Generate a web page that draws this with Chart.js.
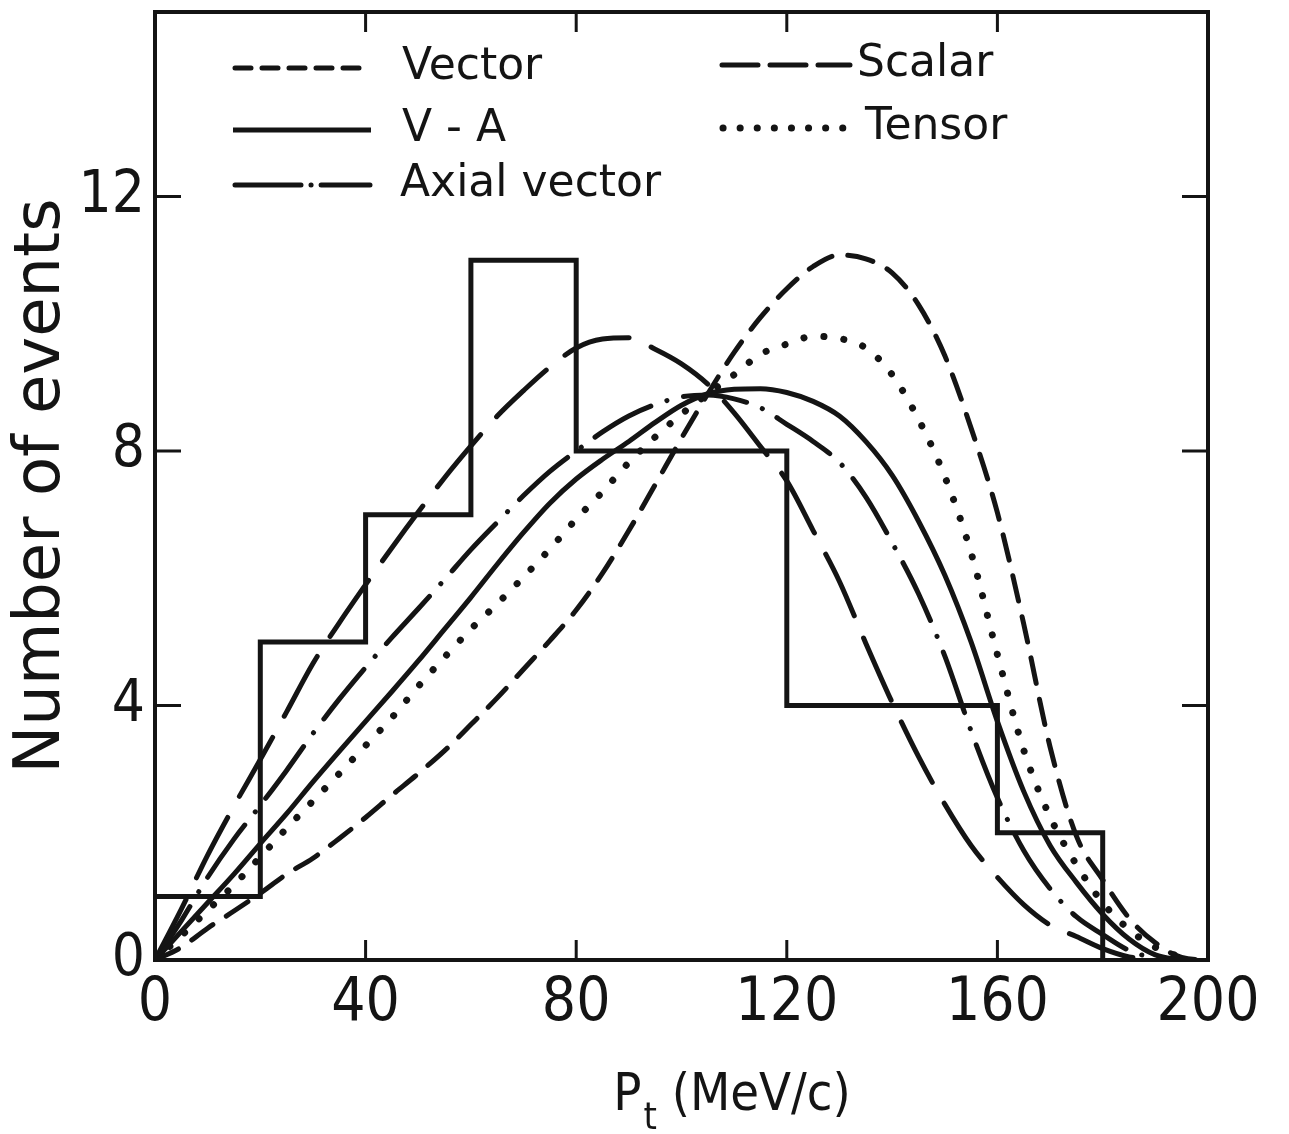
<!DOCTYPE html>
<html>
<head>
<meta charset="utf-8">
<title>Pt distribution</title>
<script src="https://cdn.jsdelivr.net/npm/chart.js@4.4.1/dist/chart.umd.min.js"></script>
<style>
  html, body { margin: 0; padding: 0; background: #fff; }
  #wrap { width: 1289px; height: 1134px; }
</style>
</head>
<body>
<div id="wrap"><canvas id="ptChart" width="1289" height="1134"></canvas></div>
<script>
// --- DATA ---
const ptValues = [0, 5, 10, 15, 20, 25, 30, 35, 40, 45, 50, 55, 60, 65, 70, 75, 80, 85, 90, 95,
    100, 105, 110, 115, 120, 125, 130, 135, 140, 145, 150, 155, 160, 165, 170, 175, 180, 185, 190, 195, 200];

const vectorCurve = [0, 0.2, 0.5, 0.77, 1.05, 1.35, 1.6, 1.91, 2.24, 2.59, 2.93, 3.29, 3.7, 4.12, 4.57, 5.02, 5.5, 6.08, 6.75, 7.47,
    8.2, 8.9, 9.55, 10.1, 10.55, 10.9, 11.08, 11.02, 10.8, 10.3, 9.5, 8.36, 7.03, 5.28, 3.35, 1.95, 1.26, 0.66, 0.27, 0.04, 0];
const vaCurve = [0, 0.45, 0.9, 1.35, 1.83, 2.3, 2.8, 3.28, 3.75, 4.22, 4.7, 5.2, 5.7, 6.22, 6.72, 7.18, 7.56, 7.87, 8.15, 8.45,
    8.72, 8.9, 8.97, 8.98, 8.92, 8.78, 8.55, 8.15, 7.62, 6.9, 6.05, 5.0, 3.75, 2.65, 1.8, 1.22, 0.72, 0.33, 0.08, 0, null];
const axialCurve = [0, 0.62, 1.3, 1.9, 2.43, 2.98, 3.56, 4.1, 4.6, 5.07, 5.52, 5.98, 6.45, 6.88, 7.3, 7.68, 8.0, 8.3, 8.55, 8.73,
    8.85, 8.88, 8.82, 8.68, 8.42, 8.15, 7.82, 7.28, 6.56, 5.76, 4.78, 3.6, 2.55, 1.72, 1.12, 0.68, 0.4, 0.15, 0.02, null, null];
const scalarCurve = [0, 0.8, 1.65, 2.42, 3.15, 3.9, 4.66, 5.3, 5.9, 6.48, 7.04, 7.58, 8.08, 8.55, 8.95, 9.32, 9.62, 9.76, 9.78, 9.6,
    9.37, 9.05, 8.6, 8.07, 7.53, 6.75, 5.95, 4.98, 4.05, 3.2, 2.45, 1.8, 1.3, 0.87, 0.55, 0.37, 0.18, 0.05, 0, null, null];
const tensorCurve = [0, 0.38, 0.78, 1.18, 1.62, 2.07, 2.5, 2.93, 3.37, 3.81, 4.3, 4.76, 5.2, 5.6, 6.02, 6.46, 6.93, 7.36, 7.82, 8.22,
    8.58, 8.9, 9.2, 9.52, 9.68, 9.8, 9.77, 9.62, 9.2, 8.5, 7.6, 6.4, 4.8, 3.3, 2.25, 1.5, 0.9, 0.48, 0.2, 0.04, null];

const binEdges = [0, 20, 40, 60, 80, 100, 120, 140, 160, 180];
const binCounts = [1, 5, 7, 11, 8, 8, 4, 4, 2];

const xTickValues = [0, 40, 80, 120, 160, 200];
const yTickValues = [0, 4, 8, 12];
const xMarkValues = [40, 80, 120, 160];
const yMarkValues = [4, 8, 12];

const INK = '#141414';
const NARROW = "'Liberation Sans Narrow', 'DejaVu Sans Condensed', 'DejaVu Sans', sans-serif";

// --- DATA PROCESSING ---
function toPoints(values) {
    return ptValues
        .map((x, i) => ({ x: x, y: values[i] }))
        .filter(p => p.y !== null && p.y !== undefined);
}

const histPoints = binCounts.map((c, i) => ({ x: binEdges[i], y: c }));
histPoints.push({ x: binEdges[binEdges.length - 1], y: binCounts[binCounts.length - 1] });
histPoints.push({ x: binEdges[binEdges.length - 1], y: 0 });

// --- LEGEND / FRAME ---
const legendItems = [
    { label: 'Vector', dash: [16, 11], cap: 'round', width: 5, x0: 80, x1: 215, tx: 247, ty: 56 },
    { label: 'V - A', dash: [], cap: 'butt', width: 5, x0: 78, x1: 216, tx: 247, ty: 118 },
    { label: 'Axial vector', dash: [66, 10, 0.1, 10, 60], cap: 'round', width: 5, x0: 80, x1: 215, tx: 245, ty: 173 },
    { label: 'Scalar', dash: [36, 12], cap: 'round', width: 5, x0: 567, x1: 695, tx: 702, ty: 53 },
    { label: 'Tensor', dash: [0.1, 17], cap: 'round', width: 7, x0: 568, x1: 700, tx: 710, ty: 116 }
];

const framePlugin = {
    id: 'frame',
    afterDatasetsDraw(chart) {
        const { ctx, chartArea: a, scales: { x, y } } = chart;
        ctx.save();
        ctx.strokeStyle = INK;
        ctx.fillStyle = INK;
        ctx.setLineDash([]);
        ctx.lineWidth = 4;
        ctx.strokeRect(a.left, a.top, a.right - a.left, a.bottom - a.top);

        // inward tick marks
        ctx.lineWidth = 3;
        ctx.beginPath();
        xMarkValues.forEach(v => {
            const px = x.getPixelForValue(v);
            ctx.moveTo(px, a.bottom); ctx.lineTo(px, a.bottom - 20);
            ctx.moveTo(px, a.top); ctx.lineTo(px, a.top + 20);
        });
        yMarkValues.forEach(v => {
            const py = y.getPixelForValue(v);
            ctx.moveTo(a.left, py); ctx.lineTo(a.left + 26, py);
            ctx.moveTo(a.right, py); ctx.lineTo(a.right - 26, py);
        });
        ctx.stroke();

        // legend
        ctx.font = "44px 'DejaVu Sans', sans-serif";
        ctx.textBaseline = 'middle';
        ctx.textAlign = 'left';
        legendItems.forEach(item => {
            const ly = a.top + item.ty;
            ctx.beginPath();
            ctx.lineWidth = item.width;
            ctx.lineCap = item.cap;
            ctx.setLineDash(item.dash);
            ctx.moveTo(a.left + item.x0, ly);
            ctx.lineTo(a.left + item.x1, ly);
            ctx.stroke();
            ctx.setLineDash([]);
            ctx.fillText(item.label, a.left + item.tx, ly);
        });

        // x axis title with subscript
        const cx = 731, base = 1110;
        ctx.textBaseline = 'alphabetic';
        ctx.font = '52px ' + NARROW;
        const wP = ctx.measureText('P').width;
        const rest = ' (MeV/c)';
        const wRest = ctx.measureText(rest).width;
        ctx.font = '38px ' + NARROW;
        const wT = ctx.measureText('t').width;
        const sx = cx - (wP + wT + wRest) / 2;
        ctx.font = '52px ' + NARROW;
        ctx.fillText('P', sx, base);
        ctx.font = '38px ' + NARROW;
        ctx.fillText('t', sx + wP + 2, base + 19);
        ctx.font = '52px ' + NARROW;
        ctx.fillText(rest, sx + wP + wT + 2, base);
        ctx.restore();
    }
};

// --- CHART ---
function curve(label, values, dash, width, cap) {
    return {
        label: label,
        data: toPoints(values),
        borderColor: INK,
        borderWidth: width,
        borderDash: dash,
        borderCapStyle: cap,
        cubicInterpolationMode: 'monotone',
        pointRadius: 0,
        fill: false
    };
}

const ctx = document.getElementById('ptChart').getContext('2d');
new Chart(ctx, {
    type: 'line',
    data: {
        datasets: [
            {
                label: 'Data',
                data: histPoints,
                stepped: 'before',
                borderColor: INK,
                borderWidth: 5,
                borderJoinStyle: 'miter',
                pointRadius: 0,
                fill: false
            },
            curve('Vector', vectorCurve, [26, 16], 5, 'round'),
            curve('V - A', vaCurve, [], 5, 'butt'),
            curve('Axial vector', axialCurve, [64, 17, 0.1, 17], 5, 'round'),
            curve('Scalar', scalarCurve, [68, 24], 5, 'round'),
            curve('Tensor', tensorCurve, [0.1, 20], 7, 'round')
        ]
    },
    options: {
        responsive: false,
        devicePixelRatio: 1,
        animation: false,
        layout: { padding: { top: 12, right: 81, left: 0, bottom: 0 } },
        plugins: {
            legend: { display: false },
            tooltip: { enabled: false }
        },
        scales: {
            x: {
                type: 'linear',
                min: 0,
                max: 200,
                afterBuildTicks: s => { s.ticks = xTickValues.map(v => ({ value: v })); },
                afterFit: s => { s.height = 174; s.paddingLeft = 0; s.paddingRight = 0; },
                grid: { display: false, drawTicks: false },
                border: { display: false },
                ticks: { color: INK, padding: 8, maxRotation: 0, font: { family: NARROW, size: 60 } }
            },
            y: {
                type: 'linear',
                min: 0,
                max: 14.9,
                afterBuildTicks: s => { s.ticks = yTickValues.map(v => ({ value: v })); },
                afterFit: s => { s.width = 155; s.paddingTop = 0; s.paddingBottom = 0; },
                grid: { display: false, drawTicks: false },
                border: { display: false },
                ticks: { color: INK, padding: 10, font: { family: NARROW, size: 58 } },
                title: {
                    display: true,
                    text: 'Number of events',
                    color: INK,
                    padding: { top: 4, bottom: 0 },
                    font: { family: "'DejaVu Sans', sans-serif", size: 64 }
                }
            }
        }
    },
    plugins: [framePlugin]
});
</script>
</body>
</html>
